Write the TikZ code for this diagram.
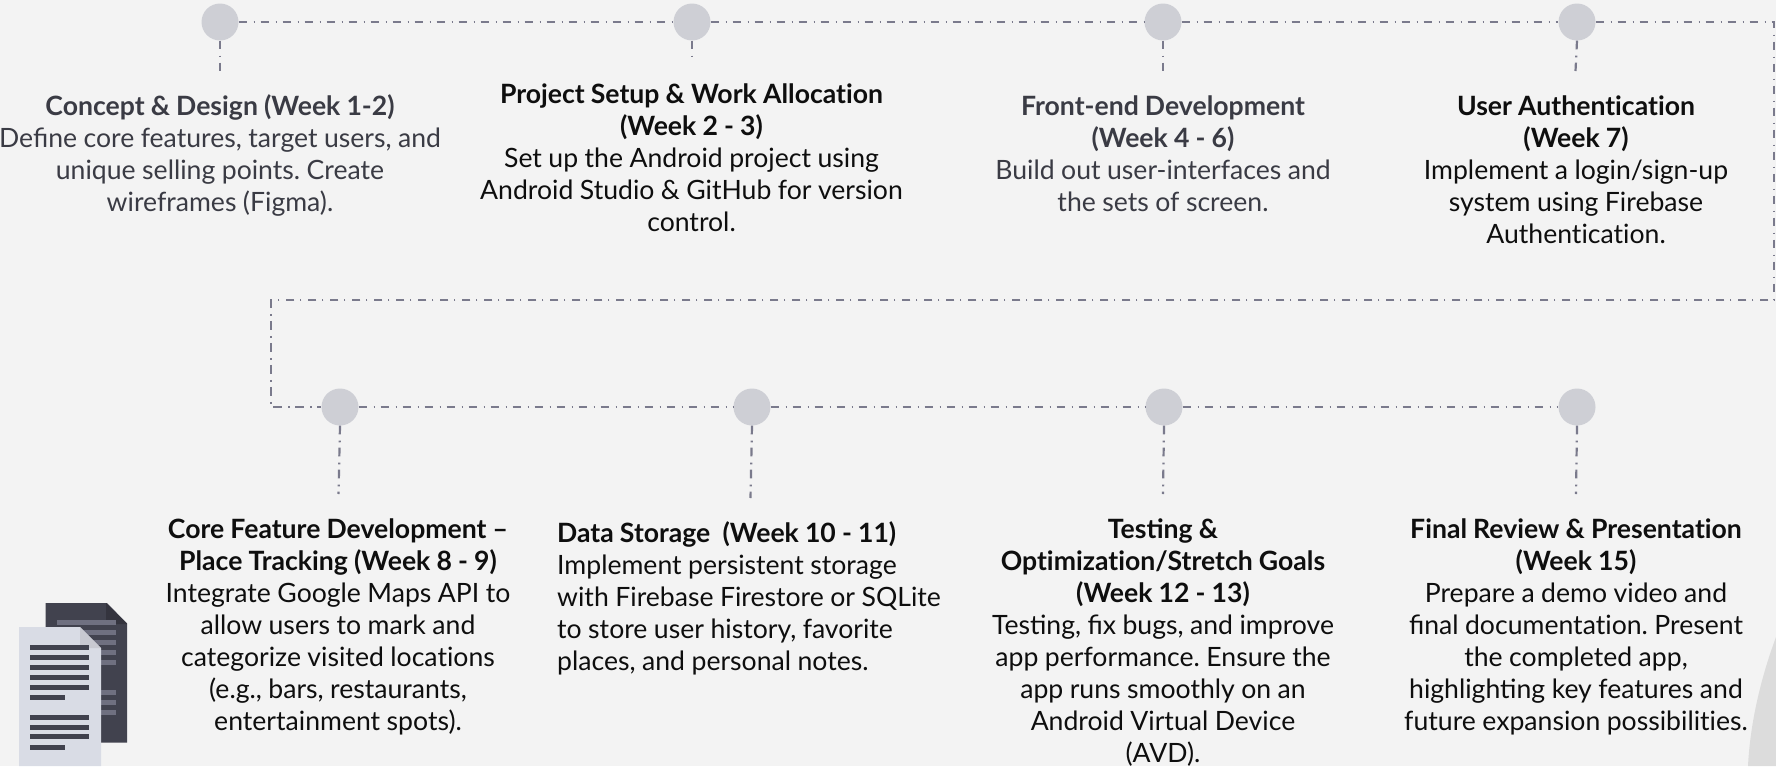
\documentclass[tikz,border=0pt]{standalone}
\usepackage{fontspec}
\setmainfont{Lato}[WordSpace=0.95]
\definecolor{bgc}{RGB}{243,243,243}
\definecolor{linec}{RGB}{122,122,140}
\definecolor{dotc}{RGB}{206,207,213}
\definecolor{slate}{RGB}{58,59,68}
\definecolor{inkc}{RGB}{14,14,14}
\definecolor{blobc}{RGB}{220,220,220}
\definecolor{backp}{RGB}{65,66,78}
\definecolor{backf}{RGB}{52,52,62}
\definecolor{backl}{RGB}{111,112,128}
\definecolor{frontp}{RGB}{217,220,229}
\definecolor{frontf}{RGB}{200,201,209}
\newcommand{\tstrut}{\rule{0pt}{24pt}}
\newcommand{\tI}{t\kern0pt i}
\tikzset{
  x=1pt,y=-1pt,
  flow/.style={draw=linec,line width=2.2pt,dash pattern=on 8.7pt off 6.3pt on 1.7pt off 5.3pt},
  dotnode/.style={circle,fill=dotc,minimum size=37pt,inner sep=0pt},
  blurb/.style={anchor=north,inner sep=0pt,align=center,font=\fontsize{26.6}{32}\selectfont\frenchspacing,text=inkc},
  soft/.style={text=slate},
  leftblurb/.style={anchor=north west,inner sep=0pt,align=left,font=\fontsize{26.6}{32}\selectfont\frenchspacing,text=inkc},
}
\begin{document}
\begin{tikzpicture}
\useasboundingbox (0,0) rectangle (1776,766);
\clip (0,0) rectangle (1776,766);
\fill[bgc] (0,0) rectangle (1776,766);
% background blob
\fill[blobc] (1776,637) .. controls (1760,680) and (1750,725) .. (1748,766) -- (1776,766) -- cycle;
% dots
\node[dotnode] (a1) at (220,22) {};
\node[dotnode] (a2) at (692,22) {};
\node[dotnode] (a3) at (1163,22) {};
\node[dotnode] (a4) at (1577,22) {};
\node[dotnode] (b1) at (340,407) {};
\node[dotnode] (b2) at (752,407) {};
\node[dotnode] (b3) at (1164,407) {};
\node[dotnode] (b4) at (1577,407) {};
\coordinate (tr) at (1774,22);
\coordinate (rb) at (1774,300);
\coordinate (lb) at (271.2,300);
\coordinate (lc) at (271.2,407);
\coordinate (s1) at (220,71);
\coordinate (s2) at (692,56);
\coordinate (s3) at (1163,71);
\coordinate (s4) at (1575.5,71);
\coordinate (t1) at (338.5,494);
\coordinate (t2) at (750.5,498);
\coordinate (t3) at (1163,494);
\coordinate (t4) at (1576,494);
% connectors
\draw[flow] (a1.east) -- (a2.west);
\draw[flow] (a2.east) -- (a3.west);
\draw[flow] (a3.east) -- (a4.west);
\draw[flow] (a4.east) -- (tr) -- (rb) -- (lb) -- (lc) -- (b1.west);
\draw[flow] (b1.east) -- (b2.west);
\draw[flow] (b2.east) -- (b3.west);
\draw[flow] (b3.east) -- (b4.west);
\foreach \p/\q in {a1/s1,a2/s2,a3/s3,a4/s4,b1/t1,b2/t2,b3/t3,b4/t4}
  \draw[flow] (\p.south) -- (\q);
% texts
\node[blurb,soft] (n1) at (220,91) {\tstrut\textbf{Concept \& Design (Week 1-2)}\\Define core features, target users, and\\unique selling points. Create\\wireframes (Figma).};
\node[blurb] (n2) at (691.5,79) {\tstrut\textbf{Project Setup \& Work Alloca\tI on}\\\textbf{(Week 2 - 3)}\\Set up the Android project using\\Android Studio \& GitHub for version\\control.};
\node[blurb,soft] (n3) at (1163,91) {\tstrut\textbf{Front-end Development}\\\textbf{(Week 4 - 6)}\\Build out user-interfaces and\\the sets of screen.};
\node[blurb] (n4) at (1576,91) {\tstrut\textbf{User Authen\tI ca\tI on}\\\textbf{(Week 7)}\\Implement a login/sign-up\\system using Firebase\\Authen\tI ca\tI on.};
\node[blurb] (m1) at (338,514) {\tstrut\textbf{Core Feature Development –}\\\textbf{Place Tracking (Week 8 - 9)}\\Integrate Google Maps API to\\allow users to mark and\\categorize visited loca\tI ons\\(e.g., bars, restaurants,\\entertainment spots).};
\node[leftblurb] (m2) at (557,518) {\tstrut\textbf{Data Storage\ \ (Week 10 - 11)}\\Implement persistent storage\\with Firebase Firestore or SQLite\\to store user history, favorite\\places, and personal notes.};
\node[blurb] (m3) at (1163,514) {\tstrut\textbf{Testing \&}\\\textbf{Op\tI miza\tI on/Stretch Goals}\\\textbf{(Week 12 - 13)}\\Testing, fix bugs, and improve\\app performance. Ensure the\\app runs smoothly on an\\Android Virtual Device\\(AVD).};
\node[blurb] (m4) at (1576,514) {\tstrut\textbf{Final Review \& Presenta\tI on}\\\textbf{(Week 15)}\\Prepare a demo video and\\final documenta\tI on. Present\\the completed app,\\highlighting key features and\\future expansion possibili\tI es.};
% document icon
\fill[backp] (45.5,603) -- (107,603) -- (127,623.5) -- (127,742.5) -- (45.5,742.5) -- cycle;
\fill[backf] (106,603) -- (127,623.5) -- (127,624) -- (106,624) -- cycle;
\foreach \y in {620,630,640,650,660,690,700,710}
  \fill[backl] (57,\y) rectangle (116,\y+5);
\fill[frontp] (19,627) -- (80,627) -- (101,648) -- (101,766) -- (19,766) -- cycle;
\fill[frontf] (80,627) -- (101,648) -- (80,648) -- cycle;
\foreach \y/\w in {645/59,655/59,665/59,675/59,685/59,695/35,715/59,725/59,734/59,745/35}
  \fill[backp] (30,\y) rectangle (30+\w,\y+5);
\end{tikzpicture}
\end{document}
